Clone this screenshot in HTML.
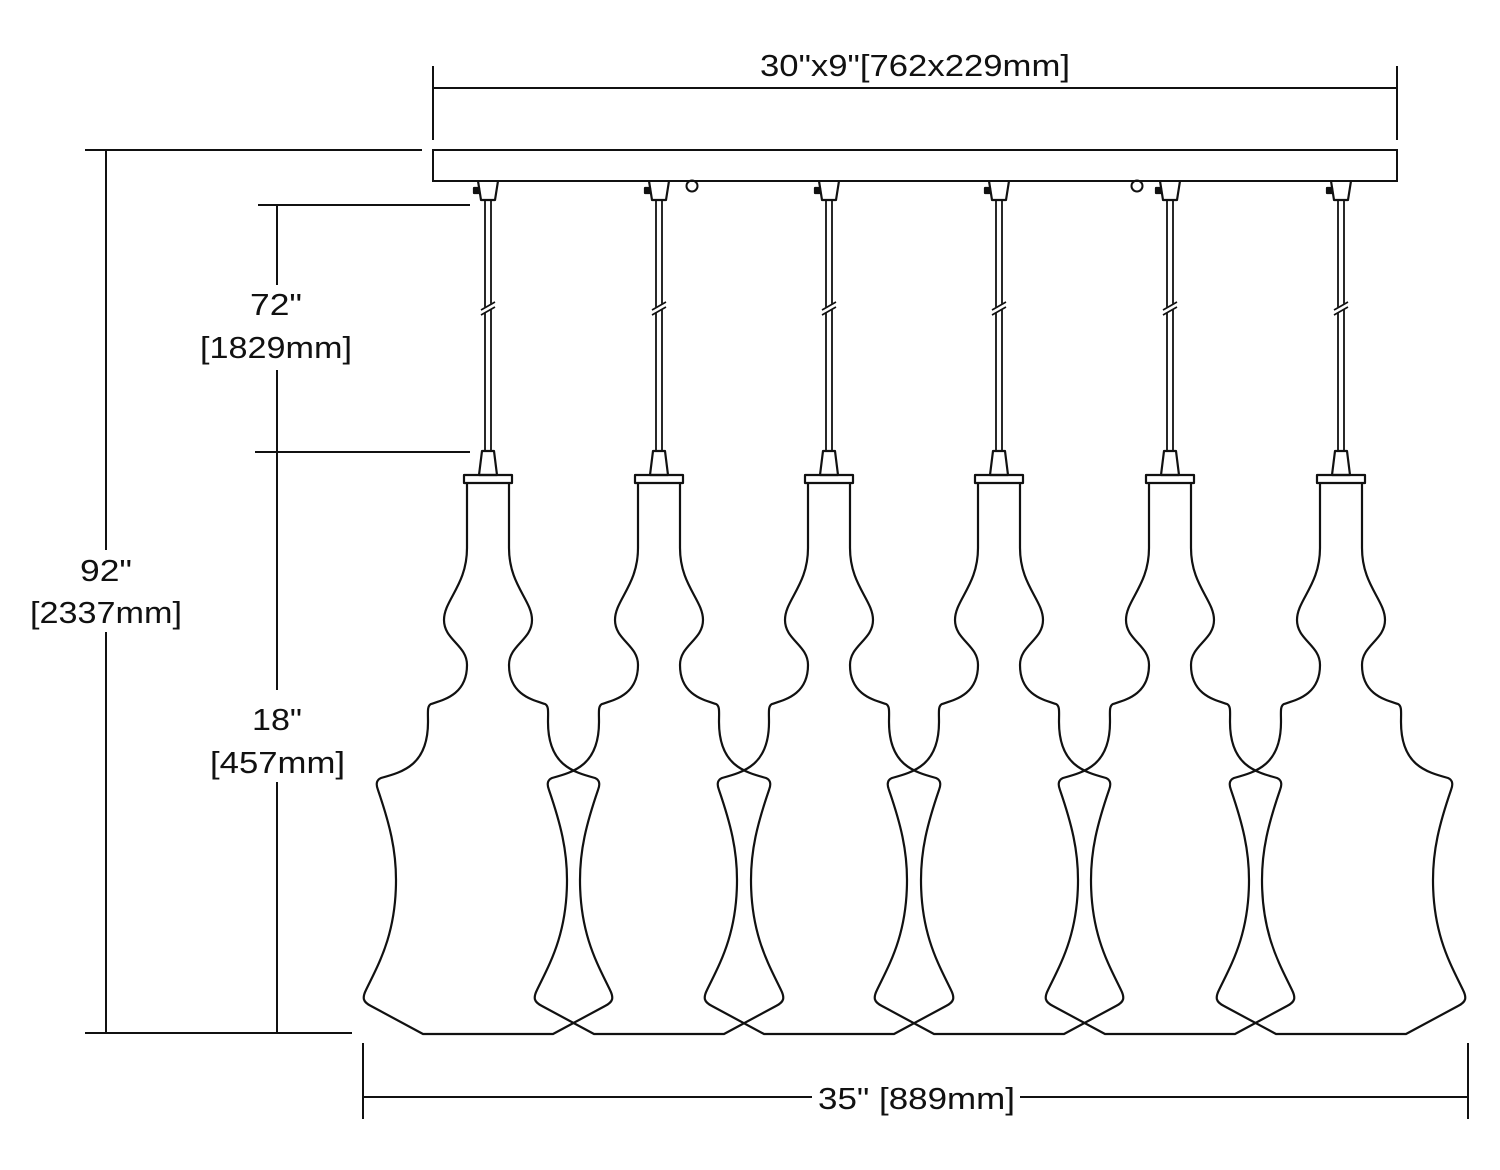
<!DOCTYPE html>
<html><head><meta charset="utf-8"><style>
html,body{margin:0;padding:0;background:#fff;}
svg{display:block;}
text{font-family:"Liberation Sans",sans-serif;font-size:31px;fill:#111;}
</style></head><body>
<svg width="1500" height="1170" viewBox="0 0 1500 1170" xmlns="http://www.w3.org/2000/svg">
<defs>
<g id="p" fill="none" stroke="#111" stroke-width="2.2" stroke-linejoin="round">
  <!-- canopy fitting -->
  <path d="M-10 181 L-7 200 L7 200 L10 181" />
  <rect x="-14" y="188" width="5" height="5" fill="#111"/>
  <!-- cord -->
  <line x1="-3" y1="200" x2="-3" y2="451" stroke-width="1.8"/>
  <line x1="3" y1="200" x2="3" y2="451" stroke-width="1.8"/>
  <line x1="-7" y1="312" x2="7" y2="304" stroke="#fff" stroke-width="5"/>
  <line x1="-7" y1="310" x2="7" y2="302" stroke-width="1.6"/>
  <line x1="-7" y1="315" x2="7" y2="307" stroke-width="1.6"/>
  <!-- cone -->
  <path d="M-6 451 L6 451 L9 475 L-9 475 Z"/>
  <rect x="-24" y="475" width="48" height="8"/>
  <!-- glass -->
  <path d="M-21 483 L-21 548 C-21 585 -44 600 -44 620 C-44 640 -21 645 -21 665 C-21 695 -45 700 -57 704 C-61 706 -60 712 -60 722 C-60 765 -85 772 -107 778 C-112 780 -112 785 -110 790 C-98 825 -92 850 -92 880 C-92 935 -110 965 -122 990 C-126 998 -125 1002 -117 1006 L-65 1034 L65 1034 L117 1006 C125 1002 126 998 122 990 C110 965 92 935 92 880 C92 850 98 825 110 790 C112 785 112 780 107 778 C85 772 60 765 60 722 C60 712 61 706 57 704 C45 700 21 695 21 665 C21 645 44 640 44 620 C44 600 21 585 21 548 L21 483"/>
</g>
</defs>
<g fill="none" stroke="#111" stroke-width="2">
  <!-- canopy -->
  <rect x="433" y="150" width="964" height="31"/>
  <circle cx="692" cy="186" r="5.5"/>
  <circle cx="1137" cy="186" r="5.5"/>
  <!-- top dim -->
  <line x1="433" y1="66" x2="433" y2="140"/>
  <line x1="1397" y1="66" x2="1397" y2="140"/>
  <line x1="433" y1="88" x2="1397" y2="88"/>
  <!-- left 92 dim -->
  <line x1="85" y1="150" x2="422" y2="150"/>
  <line x1="85" y1="1033" x2="352" y2="1033"/>
  <line x1="106" y1="150" x2="106" y2="550"/>
  <line x1="106" y1="632" x2="106" y2="1033"/>
  <!-- 72 / 18 dim -->
  <line x1="258" y1="205" x2="470" y2="205"/>
  <line x1="255" y1="452" x2="470" y2="452"/>
  <line x1="277" y1="205" x2="277" y2="285"/>
  <line x1="277" y1="370" x2="277" y2="690"/>
  <line x1="277" y1="782" x2="277" y2="1033"/>
  <!-- bottom dim -->
  <line x1="363" y1="1043" x2="363" y2="1119"/>
  <line x1="1468" y1="1043" x2="1468" y2="1119"/>
  <line x1="363" y1="1097" x2="812" y2="1097"/>
  <line x1="1020" y1="1097" x2="1468" y2="1097"/>
</g>
<use href="#p" x="488"/>
<use href="#p" x="659"/>
<use href="#p" x="829"/>
<use href="#p" x="999"/>
<use href="#p" x="1170"/>
<use href="#p" x="1341"/>
<text x="760" y="76" textLength="310" lengthAdjust="spacingAndGlyphs">30"x9"[762x229mm]</text>
<text x="80" y="581" textLength="52" lengthAdjust="spacingAndGlyphs">92"</text>
<text x="30" y="623" textLength="152" lengthAdjust="spacingAndGlyphs">[2337mm]</text>
<text x="250" y="315" textLength="52" lengthAdjust="spacingAndGlyphs">72"</text>
<text x="200" y="358" textLength="152" lengthAdjust="spacingAndGlyphs">[1829mm]</text>
<text x="252" y="730" textLength="50" lengthAdjust="spacingAndGlyphs">18"</text>
<text x="210" y="773" textLength="135" lengthAdjust="spacingAndGlyphs">[457mm]</text>
<text x="818" y="1109" textLength="197" lengthAdjust="spacingAndGlyphs">35" [889mm]</text>
</svg>
</body></html>
